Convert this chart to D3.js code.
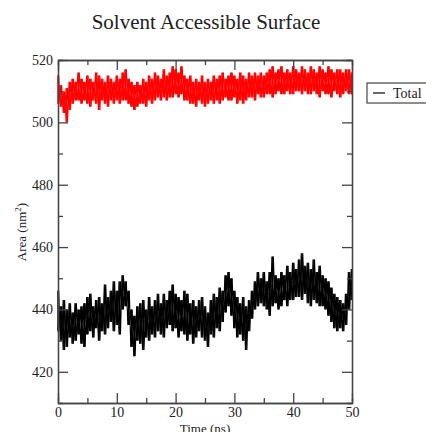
<!DOCTYPE html>
<meta charset="utf-8">
<head>
</head>
<body style="margin:0">
<style>
body { background: #fff; }
.axis path, .axis line { stroke: #444; stroke-width: 1.3px; }
.axis text { font: 14px "Liberation Serif", serif; fill: #222; }
.title { font: 21px "Liberation Serif", serif; fill: #222; }
.label { font: 13px "Liberation Serif", serif; fill: #222; }
</style>
<svg width="426" height="432"></svg>
<script src="https://d3js.org/d3.v7.min.js"></script>
<script>
// sampled every 0.5 ns: upper and lower edge of the trace in each bin
var times = d3.range(0, 50.01, 0.5);
var totalHi = [446,441,443,440,442,439,442,440,441,442,444,445,441,443,444,442,448,444,446,449,
  446,449,451,449,446,440,438,441,442,443,440,444,441,443,445,442,445,443,446,448,
  445,444,443,446,445,442,443,441,443,444,441,439,443,445,444,447,446,451,452,450,
  446,444,442,444,441,443,446,449,452,450,452,449,452,457,451,450,452,451,454,452,
  455,453,456,458,454,455,453,456,452,454,451,450,449,447,445,444,443,442,445,452,453];
var totalLo = [433,430,427,428,431,429,430,432,429,428,432,433,431,434,430,433,432,434,436,433,
  435,432,440,441,435,428,425,430,429,427,431,430,432,431,433,432,431,434,435,433,
  434,431,433,432,430,432,429,431,433,431,430,428,432,431,434,433,436,439,441,438,
  434,431,432,430,427,433,437,440,441,442,441,440,438,441,442,440,441,443,441,443,
  443,444,444,443,445,442,441,443,442,441,441,440,438,436,434,433,434,433,435,440,443];
var redHi = [515,512,510,511,513,514,513,516,514,513,515,514,513,516,515,514,513,515,514,513,
  515,514,516,517,514,513,512,513,512,514,513,515,514,516,515,514,517,515,516,518,
  517,516,518,515,514,515,513,514,513,515,513,514,513,515,514,515,516,514,515,516,
  515,514,516,515,514,516,515,516,515,516,515,516,517,518,516,517,518,516,517,516,
  518,517,516,518,517,516,518,517,516,518,517,516,518,517,516,517,517,516,517,517,516];
var redLo = [506,505,503,500,504,506,507,507,506,507,506,505,507,506,504,507,506,505,507,506,
  507,506,507,507,506,505,504,505,506,506,505,507,506,507,508,507,508,507,508,508,
  509,508,509,507,507,506,506,505,507,506,505,506,507,506,507,506,507,508,507,507,
  508,506,507,506,507,508,508,507,509,508,508,509,509,508,509,510,509,509,510,509,
  509,510,510,509,510,509,509,510,509,508,510,509,509,508,510,509,508,509,510,509,509];
var xTicks = [0, 10, 20, 30, 40, 50];
var yTicks = [420, 440, 460, 480, 500, 520];

var svg = d3.select("svg");
var x = d3.scaleLinear().domain([0, 50]).range([58, 352]);
var y = d3.scaleLinear().domain([410, 520]).range([403, 60]);

// trace each bin low->high and high->low so the band reads as dense noise
function zigzag(hi, lo, flip) {
  var pts = [];
  times.forEach(function(t, i) {
    var a = flip ? hi[i] : lo[i], b = flip ? lo[i] : hi[i];
    pts.push([Math.max(0, t - 0.125), a]);
    pts.push([Math.min(50, t + 0.125), b]);
  });
  return d3.line().x(function(d) { return x(d[0]); }).y(function(d) { return y(d[1]); })(pts);
}

function drawSeries(hi, lo, color) {
  var g = svg.append("g");
  [false, true].forEach(function(f) {
    g.append("path").attr("d", zigzag(hi, lo, f))
      .attr("fill", "none").attr("stroke", color).attr("stroke-width", 1.1);
  });
  g.selectAll("line").data(times).enter().append("line")
    .attr("x1", function(d) { return x(d); })
    .attr("x2", function(d) { return x(d); })
    .attr("y1", function(d, i) { return y(lo[i]); })
    .attr("y2", function(d, i) { return y(hi[i]); })
    .attr("stroke", color).attr("stroke-width", 1.1);
}
drawSeries(redHi, redLo, "#ff0000");
drawSeries(totalHi, totalLo, "#000");

// frame with inward ticks on all four sides
function addAxis(axis, tx, ty, labels) {
  var g = svg.append("g").attr("class", "axis")
    .attr("transform", "translate(" + tx + "," + ty + ")").call(axis);
  if (!labels) g.selectAll("text").remove();
  return g;
}
addAxis(d3.axisBottom(x).tickValues(d3.range(5, 50, 10)).tickSize(-5).tickFormat(""), 0, 403, false);
addAxis(d3.axisTop(x).tickValues(d3.range(5, 50, 10)).tickSize(-5).tickFormat(""), 0, 60, false);
addAxis(d3.axisLeft(y).tickValues(d3.range(430, 520, 20)).tickSize(-5).tickFormat(""), 58, 0, false);
addAxis(d3.axisRight(y).tickValues(d3.range(430, 520, 20)).tickSize(-5).tickFormat(""), 352, 0, false);
addAxis(d3.axisBottom(x).tickValues(xTicks).tickSize(-10).tickPadding(4).tickSizeOuter(0), 0, 403, true);
addAxis(d3.axisTop(x).tickValues(xTicks).tickSize(-10).tickSizeOuter(0), 0, 60, false);
addAxis(d3.axisLeft(y).tickValues(yTicks).tickSize(-10).tickPadding(5).tickSizeOuter(0), 58, 0, true);
addAxis(d3.axisRight(y).tickValues(yTicks).tickSize(-10).tickSizeOuter(0), 352, 0, false);

svg.append("text").attr("class", "title").attr("x", 206).attr("y", 29)
  .attr("text-anchor", "middle").text("Solvent Accessible Surface");

var yl = svg.append("text").attr("class", "label")
  .attr("transform", "translate(26,232) rotate(-90)").attr("text-anchor", "middle");
yl.append("tspan").text("Area (nm");
yl.append("tspan").attr("dy", -5).attr("font-size", 9).text("2");
yl.append("tspan").attr("dy", 5).text(")");

svg.append("text").attr("class", "label").attr("x", 205).attr("y", 433)
  .attr("text-anchor", "middle").text("Time (ns)");

// legend
var leg = svg.append("g").attr("transform", "translate(367,83)");
leg.append("rect").attr("width", 70).attr("height", 20)
  .attr("fill", "#fff").attr("stroke", "#444").attr("stroke-width", 1.2);
leg.append("line").attr("x1", 6).attr("x2", 18).attr("y1", 10).attr("y2", 10)
  .attr("stroke", "#000").attr("stroke-width", 1.2);
leg.append("text").attr("class", "label").attr("x", 26).attr("y", 15)
  .style("font-size", "14px").text("Total");
</script>
</body>
